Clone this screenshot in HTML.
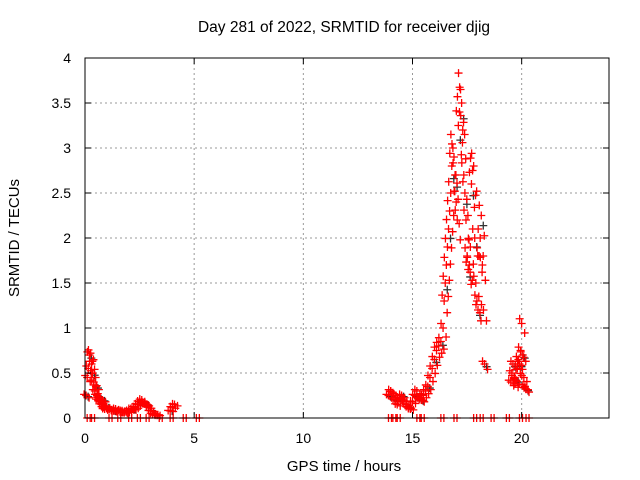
<!DOCTYPE html>
<html><head><meta charset="utf-8"><style>
body{margin:0;background:#fff}
svg{display:block;font-family:"Liberation Sans",sans-serif}
</style></head><body>
<svg id="chart" width="640" height="480" viewBox="0 0 640 480">
<text x="344" y="32" text-anchor="middle" font-size="15.5">Day 281 of 2022, SRMTID for receiver djig</text>
<text x="344" y="471" text-anchor="middle" font-size="15">GPS time / hours</text>
<text transform="translate(19,238) rotate(-90)" text-anchor="middle" font-size="15">SRMTID / TECUs</text>
<g id="grid"></g>
<g id="marks"></g>
<rect x="85" y="58" width="524" height="360" fill="none" stroke="#000" stroke-width="1"/>
<g id="ticks"></g>
</svg>
<script>
const xTicks=[0,5,10,15,20];
const yTicks=[0,0.5,1,1.5,2,2.5,3,3.5,4];
const yTickLabels=["0","0.5","1","1.5","2","2.5","3","3.5","4"];
const times=[0.05,0.1,0.15,0.2,0.25,0.3,0.35,0.4,0.45,0.5,0.55,0.6,0.65,0.7,0.75,0.8,0.85,0.9,1.0,1.1,1.2,1.3,1.4,1.5,1.6,1.7,1.8,1.9,2.0,2.1,2.2,2.3,2.4,2.5,2.6,2.7,2.8,2.9,3.0,3.1,3.2,3.3,3.9,4.0,4.1,
13.9,14.0,14.1,14.2,14.3,14.4,14.5,14.6,14.7,14.8,14.9,15.0,15.1,15.2,15.3,15.4,15.5,15.6,15.7,15.8,15.9,16.0,16.1,16.2,16.3,16.4,16.45,16.5,16.55,16.6,16.65,16.7,16.75,16.8,16.85,16.9,16.95,17.0,17.05,17.1,17.15,17.2,17.25,17.3,17.35,17.4,17.45,17.5,17.55,17.6,17.65,17.7,17.75,17.8,17.85,17.9,17.95,18.0,18.05,18.1,18.15,18.2,18.25,18.3,
19.5,19.55,19.6,19.65,19.7,19.75,19.8,19.85,19.9,19.95,20.0,20.05,20.1,20.15,20.2];
const values=[0.25,0.45,0.55,0.7,0.72,0.6,0.5,0.4,0.3,0.35,0.25,0.2,0.22,0.18,0.15,0.2,0.12,0.1,0.12,0.1,0.09,0.08,0.1,0.08,0.07,0.08,0.06,0.07,0.08,0.1,0.1,0.12,0.15,0.18,0.2,0.17,0.15,0.12,0.08,0.05,0.04,0.03,0.08,0.12,0.15,
0.25,0.3,0.28,0.2,0.15,0.22,0.25,0.2,0.15,0.12,0.1,0.18,0.25,0.3,0.22,0.2,0.25,0.3,0.35,0.45,0.55,0.65,0.75,0.8,0.85,1.0,1.3,1.5,1.7,1.9,2.1,2.3,2.5,2.8,3.0,2.9,2.7,2.4,2.2,3.25,3.4,3.65,3.5,3.2,2.7,2.5,2.2,1.8,1.65,1.7,1.9,2.6,2.75,2.8,2.0,1.5,1.3,1.2,1.8,2.0,2.25,1.7,1.2,0.6,
0.4,0.5,0.6,0.45,0.38,0.42,0.55,0.65,0.6,0.75,1.05,0.7,0.45,0.35,0.32];
const zeroTimes=[0.1,0.3,1.1,1.5,2.0,2.4,2.8,3.4,3.9,4.5,5.1,13.9,14.1,14.3,15.2,15.4,16.3,16.9,17.8,18.1,18.6,19.3,19.9,20.2];
const X=t=>85+t*524/24, Y=v=>418-v*90;
const ns="http://www.w3.org/2000/svg";
const grid=document.getElementById('grid'),ticks=document.getElementById('ticks'),marks=document.getElementById('marks');
function mk(tag,attrs,parent){const e=document.createElementNS(ns,tag);for(const k in attrs)e.setAttribute(k,attrs[k]);parent.appendChild(e);return e;}
xTicks.forEach(t=>{
 if(t>0){const g=mk('line',{x1:X(t),x2:X(t),y1:58,y2:418,stroke:'#999','stroke-dasharray':'2,3'},grid);
 
 }
 mk('line',{x1:X(t),x2:X(t),y1:418,y2:412,stroke:'#000'},ticks);
 mk('line',{x1:X(t),x2:X(t),y1:58,y2:64,stroke:'#000'},ticks);
 const l=mk('text',{x:X(t),y:443,'text-anchor':'middle','font-size':14},ticks);l.textContent=t;
 
 
});
yTicks.forEach((v,i)=>{
 if(v>0&&v<4){const g=mk('line',{x1:85,x2:609,y1:Y(v),y2:Y(v),stroke:'#999','stroke-dasharray':'2,3'},grid);
 
 }
 mk('line',{x1:85,x2:91,y1:Y(v),y2:Y(v),stroke:'#000'},ticks);
 mk('line',{x1:609,x2:603,y1:Y(v),y2:Y(v),stroke:'#000'},ticks);
 const l=mk('text',{x:71,y:Y(v)+5,'text-anchor':'end','font-size':14},ticks);l.textContent=yTickLabels[i];
 
 
});
function plus(x,y,c){
 const p=mk('path',{d:`M${x-4},${y}h8M${x},${y-4}v8`,stroke:c,'stroke-width':1.3,fill:'none'},marks);
 
 
}
times.forEach((t,i)=>{
 if(i%3===0) plus(X(t)+2,Y(values[i]*0.95),'#333');
});
times.forEach((t,i)=>{
 plus(X(t),Y(values[i]),'#f00');
 plus(X(t)+3,Y(values[i]*0.9),'#f00');
 plus(X(t)-2,Y(values[i]*1.05),'#f00');
});
zeroTimes.forEach(t=>{plus(X(t),Y(0),'#f00');plus(X(t)+3,Y(0),'#f00');});
</script>
</body></html>
